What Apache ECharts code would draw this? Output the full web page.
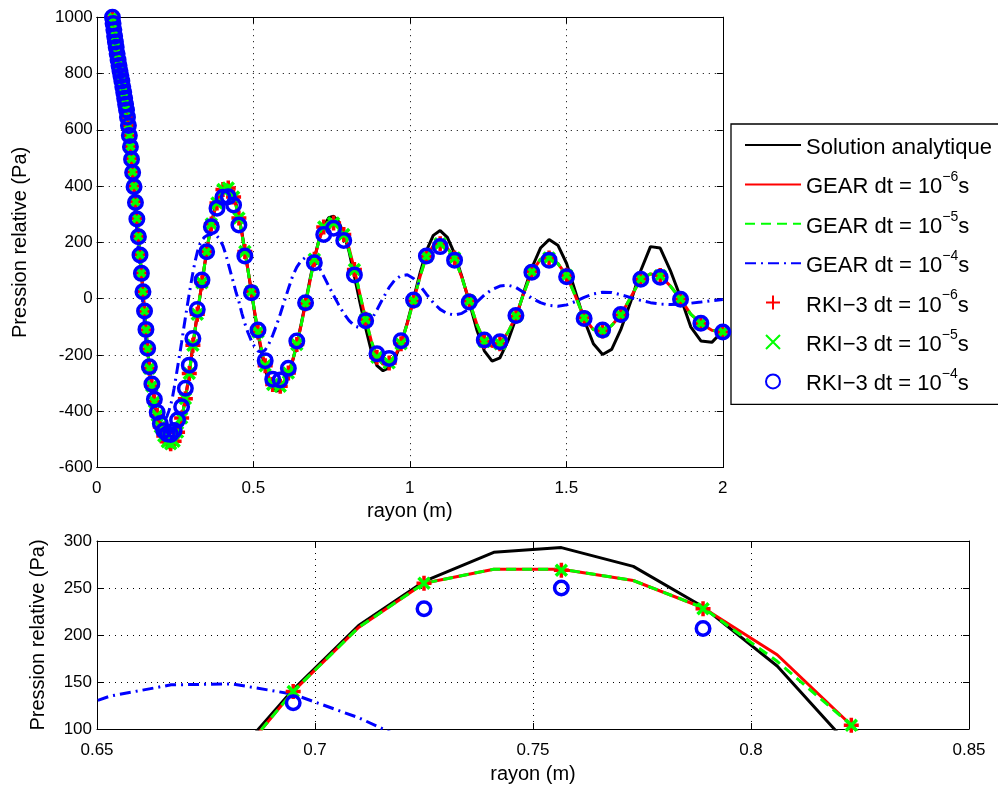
<!DOCTYPE html>
<html><head><meta charset="utf-8">
<script src="https://cdn.jsdelivr.net/npm/echarts@6/dist/echarts.min.js"></script>
<style>html,body{margin:0;padding:0;background:#fff}#c{width:998px;height:785px}</style>
</head><body><div id="c"></div>
<script>
// ---------- data ----------
// marker positions (RKI-3 outputs)
const rMark = [0.050,0.052,0.0545,0.057,0.0595,0.062,0.065,0.068,0.071,0.074,0.077,0.080,0.083,0.086,0.089,0.092,0.095,0.098,0.101,0.104,
0.1075,0.111,0.1145,0.119,0.1235,0.128,0.133,0.138,0.1425,0.1475,0.1525,0.157,0.1625,0.168,0.176,0.184,0.193,0.203,0.214,0.225,
0.236,0.247,0.258,0.271,0.283,0.2955,0.307,0.321,0.336,0.351,0.366,0.384,0.403,0.420,0.437,0.454,0.473,0.494,0.515,0.538,
0.562,0.586,0.612,0.639,0.667,0.695,0.725,0.7565,0.789,0.823,0.859,0.895,0.934,0.972,1.012,1.053,1.097,1.143,1.19,1.238,
1.288,1.339,1.39,1.445,1.501,1.557,1.616,1.674,1.738,1.8,1.865,1.93,2.0];

const pRki6 = [1000,978,955,932,912,893,870,848,828,810,792,773,753,733,712,691,670,645,615,580,
541,497,450,400,344,285,222,156,91,25,-45,-111,-179,-247,-310,-366,-415,-456,-488,-508,
-515,-506,-474,-424,-355,-266,-165,-55,57,167,265,340,388,393,361,287,168,26,-118,-238,
-305,-311,-264,-163,-18,140,255,269,228,104,-73,-208,-228,-160,-8,150,195,145,-8,-152,
-160,-62,96,145,83,-68,-115,-58,70,82,-1,-88,-118];

const pRki5 = [1000,978,955,932,912,893,870,848,828,810,792,773,753,733,712,691,670,645,615,580,
541,497,450,400,344,285,222,156,91,25,-45,-111,-179,-247,-310,-366,-415,-456,-488,-508,
-515,-506,-474,-424,-355,-266,-165,-55,57,167,265,340,388,393,361,287,168,26,-118,-238,
-305,-311,-264,-163,-18,140,255,269,228,104,-73,-208,-228,-160,-8,150,195,145,-8,-152,
-160,-62,96,145,83,-68,-115,-58,70,82,-1,-88,-118];

const pRki4 = [1000,978,955,932,912,893,870,848,828,810,792,773,753,733,712,691,670,645,615,580,
540,495,448,398,342,283,220,155,90,25,-44,-109,-176,-242,-303,-357,-403,-443,-469,-481,
-482,-468,-431,-384,-318,-236,-141,-38,66,167,256,321,360,362,333,262,152,21,-111,-220,
-286,-289,-247,-150,-14,128,228,250,207,84,-78,-196,-212,-149,-5,152,185,137,-12,-147,
-153,-60,94,137,78,-70,-111,-56,69,76,-2,-87,-118];

// line positions (GEAR and analytic solution)
const rLine = [0.050,0.052,0.0545,0.057,0.0595,0.062,0.065,0.068,0.071,0.074,0.077,0.080,0.083,0.086,0.089,0.092,0.095,0.098,0.101,0.104,
0.1075,0.111,0.1145,0.119,0.1235,0.128,0.133,0.138,0.1425,0.1475,0.1525,0.157,0.1625,0.168,0.176,0.184,0.193,
0.198,0.203,0.2085,0.214,0.2195,0.225,0.2305,0.236,0.2415,0.247,
0.2525,0.258,0.2645,0.271,0.277,0.283,0.289,0.2955,0.301,0.307,
0.314,0.321,0.3285,0.336,0.3435,0.351,0.3585,0.366,0.375,0.384,
0.3935,0.403,0.4115,0.420,0.4285,0.437,0.4455,0.454,0.4635,0.473,
0.4835,0.494,0.5045,0.515,0.5265,0.538,0.55,0.562,0.574,0.586,
0.599,0.612,0.6255,0.639,0.653,0.667,0.681,0.695,0.71,0.725,
0.741,0.7565,0.773,0.789,0.806,0.823,0.841,0.859,0.877,0.895,
0.9145,0.934,0.953,0.972,0.992,1.012,1.0325,1.053,1.075,1.097,
1.12,1.143,1.1665,1.19,1.214,1.238,1.263,1.288,1.3135,1.339,
1.3645,1.39,1.4175,1.445,1.473,1.501,1.529,1.557,1.5865,1.616,
1.645,1.674,1.706,1.738,1.769,1.8,1.8325,1.865,1.8975,1.93,1.965,2.0];

const pAna = [1000,978,955,932,912,893,870,848,828,810,792,773,753,733,712,691,670,645,615,580,
541,497,450,400,344,285,222,156,91,25,-45,-111,-179,-247,-310,-366,-415,
-437,-456,-473,-488,-499,-508,-513,-515,-513,-506,
-493,-474,-451,-424,-391,-355,-313,-266,-217,-165,
-110,-55,1,57,113,168,220,268,310,345,
373,393,400,398,386,365,333,291,236,170,
98,24,-52,-124,-192,-250,-294,-320,-328,-322,
-300,-268,-222,-163,-90,-12,68,142,210,257,
288,293,273,230,167,80,-15,-105,-185,-238,
-256,-245,-210,-160,-85,0,90,170,225,242,
218,160,78,-12,-110,-185,-222,-210,-150,-70,
25,110,180,210,190,125,25,-75,-160,-198,
-180,-110,-10,100,185,180,100,5,-100,-150,-155,-115];

const pGear6 = [1000,978,955,932,912,893,870,848,828,810,792,773,753,733,712,691,670,645,615,580,
541,497,450,400,344,285,222,156,91,25,-45,-111,-179,-247,-310,-366,-415,
-437,-456,-473,-488,-499,-508,-513,-515,-513,-506,
-493,-474,-451,-424,-391,-355,-313,-266,-217,-165,
-110,-55,1,57,113,167,218,265,305,340,
368,388,395,393,381,361,328,287,232,168,
98,26,-48,-118,-183,-238,-280,-305,-315,-311,
-293,-264,-220,-163,-93,-18,62,140,208,255,
270,270,258,229,179,104,14,-73,-150,-208,
-233,-228,-202,-160,-88,-8,78,150,188,195,
180,145,75,-8,-90,-152,-170,-160,-120,-62,
20,96,140,146,125,83,10,-68,-110,-118,
-95,-58,5,70,88,82,45,-1,-55,-88,-112,-118];

const pGear5 = [1000,978,955,932,912,893,870,848,828,810,792,773,753,733,712,691,670,645,615,580,
541,497,450,400,344,285,222,156,91,25,-45,-111,-179,-247,-310,-366,-415,
-437,-456,-473,-488,-499,-508,-513,-515,-513,-506,
-493,-474,-451,-424,-391,-355,-313,-266,-217,-165,
-110,-55,1,57,113,167,218,265,305,340,
368,388,395,393,381,361,328,287,232,168,
98,26,-48,-118,-183,-238,-280,-305,-315,-311,
-293,-264,-220,-163,-93,-18,62,140,208,255,
270,270,258,229,172,104,14,-73,-150,-208,
-233,-228,-202,-160,-88,-8,78,150,188,195,
180,145,75,-8,-90,-152,-170,-160,-120,-62,
20,96,140,146,125,83,10,-68,-110,-118,
-95,-58,5,70,88,82,45,-1,-55,-88,-112,-118];

const pGear4 = [1000,975,950,925,902,880,855,832,810,789,769,748,727,705,683,660,636,610,580,545,
503,458,410,358,300,240,175,108,42,-25,-92,-155,-218,-275,-335,-378,-408,
-422,-432,-437,-436,-428,-415,-398,-378,-352,-318,
-282,-244,-200,-155,-110,-68,-25,18,55,92,
132,165,192,208,218,224,227,228,227,222,
210,188,160,125,90,55,20,-10,-52,-88,
-122,-150,-172,-186,-190,-182,-160,-130,-95,-55,
-10,35,80,112,135,147,148,137,112,80,
45,12,-22,-52,-78,-96,-104,-98,-75,-40,
2,40,68,82,85,72,47,16,-14,-38,
-53,-58,-52,-36,-12,13,33,45,48,40,
22,2,-14,-24,-27,-22,-10,5,17,23,
22,14,4,-6,-14,-19,-21,-20,-16,-12,-7,-3];

// axis ticks
const xTicksTop = {min: 0, max: 2, step: 0.5};
const yTicksTop = {min: -600, max: 1000, step: 200};
const xTicksBot = {min: 0.65, max: 0.85, step: 0.05};
const yTicksBot = {min: 100, max: 300, step: 50};

const xName = 'rayon (m)';
const yName = 'Pression relative (Pa)';

const seriesNames = ['Solution analytique','GEAR6','GEAR5','GEAR4','RKI6','RKI5','RKI4'];
const lineSeriesNames = ['Solution analytique','GEAR6','GEAR5','GEAR4'];
const legendLabels = {
  'Solution analytique': '{n|Solution analytique}',
  'GEAR6': '{n|GEAR dt = 10}{s|\u22126}{n|s}',
  'GEAR5': '{n|GEAR dt = 10}{s|\u22125}{n|s}',
  'GEAR4': '{n|GEAR dt = 10}{s|\u22124}{n|s}',
  'RKI6': '{n|RKI\u22123 dt = 10}{s|\u22126}{n|s}',
  'RKI5': '{n|RKI\u22123 dt = 10}{s|\u22125}{n|s}',
  'RKI4': '{n|RKI\u22123 dt = 10}{s|\u22124}{n|s}'
};

// ---------- chart ----------
const FONT = '"Liberation Sans", Arial, Helvetica, sans-serif';
const pairs = (xs, ys) => xs.map((x, i) => [x, ys[i]]);
const PLUS = 'path://M0,5L10,5M5,0L5,10';
const CROSS = 'path://M0,0L10,10M10,0L0,10';

const tick = {show: true, inside: true, length: 6, lineStyle: {color: '#000', width: 1}};
const line = {show: true, onZero: false, lineStyle: {color: '#000', width: 1}};
const split = {show: true, lineStyle: {color: '#000', width: 1, type: [1, 5]}};
const lab = {color: '#000', fontSize: 17, fontFamily: FONT};

function axis(t, extra) {
  return Object.assign({type: 'value', min: t.min, max: t.max, interval: t.step,
    axisLine: line, axisTick: tick, splitLine: {show: false}, axisLabel: {show: false}}, extra);
}

const chart = echarts.init(document.getElementById('c'), null, {renderer: 'canvas'});

function seriesFor(gi) {
  return [
    {type: 'line', name: 'Solution analytique', xAxisIndex: gi, yAxisIndex: gi, data: pairs(rLine, pAna),
      symbol: 'none', lineStyle: {color: '#000', width: 3}, itemStyle: {color: '#000'}, z: 2},
    {type: 'line', name: 'GEAR6', xAxisIndex: gi, yAxisIndex: gi, data: pairs(rLine, pGear6),
      symbol: 'none', lineStyle: {color: '#ff0000', width: 3}, itemStyle: {color: '#ff0000'}, z: 3},
    {type: 'line', name: 'GEAR5', xAxisIndex: gi, yAxisIndex: gi, data: pairs(rLine, pGear5),
      symbol: 'none', lineStyle: {color: '#00ff00', width: 3, type: [10, 6]}, itemStyle: {color: '#00ff00'}, z: 4},
    {type: 'line', name: 'GEAR4', xAxisIndex: gi, yAxisIndex: gi, data: pairs(rLine, pGear4),
      symbol: 'none', lineStyle: {color: '#0000ff', width: 3, type: [11, 5, 2, 5]}, itemStyle: {color: '#0000ff'}, z: 5},
    {type: 'scatter', name: 'RKI6', xAxisIndex: gi, yAxisIndex: gi, data: pairs(rMark, pRki6),
      symbol: PLUS, symbolSize: 15, itemStyle: {color: 'rgba(0,0,0,0)', borderColor: '#ff0000', borderWidth: 3.5, opacity: 1}, z: 6},
    {type: 'scatter', name: 'RKI5', xAxisIndex: gi, yAxisIndex: gi, data: pairs(rMark, pRki5),
      symbol: CROSS, symbolSize: 11, itemStyle: {color: 'rgba(0,0,0,0)', borderColor: '#00ff00', borderWidth: 3.5, opacity: 1}, z: 7},
    {type: 'scatter', name: 'RKI4', xAxisIndex: gi, yAxisIndex: gi, data: pairs(rMark, pRki4),
      symbol: 'circle', symbolSize: 13.5, itemStyle: {color: 'rgba(0,0,0,0)', borderColor: '#0000ff', borderWidth: 3.5, opacity: 1}, z: 8}
  ];
}

const option = {
  animation: false,
  backgroundColor: '#fff',
  grid: [
    {left: 96.8, top: 17.2, width: 626, height: 450.4},
    {left: 97, top: 541, width: 872, height: 188}
  ],
  xAxis: [
    axis(xTicksTop, {gridIndex: 0, position: 'bottom', splitLine: split,
      axisLabel: Object.assign({show: true, margin: 12}, lab),
      name: xName, nameLocation: 'middle', nameGap: 32, nameTextStyle: {color: '#000', fontSize: 20, fontFamily: FONT}}),
    axis(xTicksBot, {gridIndex: 1, position: 'bottom', splitLine: split,
      axisLabel: Object.assign({show: true, margin: 13, formatter: v => String(+v.toFixed(2))}, lab),
      name: xName, nameLocation: 'middle', nameGap: 35, nameTextStyle: {color: '#000', fontSize: 20, fontFamily: FONT}}),
    axis(xTicksTop, {gridIndex: 0, position: 'top'}),
    axis(xTicksBot, {gridIndex: 1, position: 'top'})
  ],
  yAxis: [
    axis(yTicksTop, {gridIndex: 0, position: 'left', splitLine: split,
      axisLabel: Object.assign({show: true, margin: 4, formatter: v => String(v)}, lab),
      name: yName, nameLocation: 'middle', nameGap: 66, nameTextStyle: {color: '#000', fontSize: 20, fontFamily: FONT}}),
    axis(yTicksBot, {gridIndex: 1, position: 'left', splitLine: split,
      axisLabel: Object.assign({show: true, margin: 5, formatter: v => String(v)}, lab),
      name: yName, nameLocation: 'middle', nameGap: 49, nameTextStyle: {color: '#000', fontSize: 20, fontFamily: FONT}}),
    axis(yTicksTop, {gridIndex: 0, position: 'right'}),
    axis(yTicksBot, {gridIndex: 1, position: 'right'})
  ],
  legend: {
    orient: 'vertical', left: 731, top: 124,
    padding: [13, 40, 9, 13], itemWidth: 56, itemHeight: 14, itemGap: 11.4,
    backgroundColor: '#fff', borderColor: '#000', borderWidth: 1.3, borderRadius: 0,
    selectedMode: false, symbolKeepAspect: true,
    data: seriesNames.map(n => lineSeriesNames.indexOf(n) >= 0 ? {name: n, itemStyle: {opacity: 0}} : {name: n}),
    formatter: name => legendLabels[name],
    textStyle: {color: '#000', fontFamily: FONT, fontSize: 22,
      rich: {
        n: {fontSize: 22, fontFamily: FONT, color: '#000', lineHeight: 28, verticalAlign: 'bottom'},
        s: {fontSize: 14, fontFamily: FONT, color: '#000', verticalAlign: 'top', padding: [0, 0, 6, 0]}
      }}
  },
  series: seriesFor(0).concat(seriesFor(1))
};
chart.setOption(option);
</script>
</body></html>
